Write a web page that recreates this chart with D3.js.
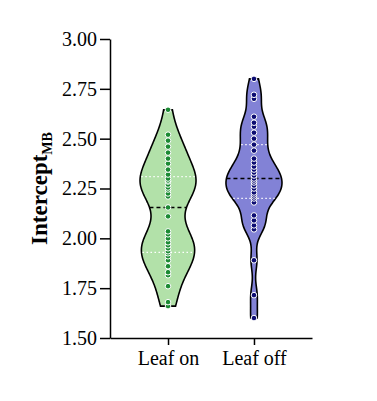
<!DOCTYPE html>
<html>
  <head>
    <meta charset="utf-8">
    <title>Intercept violin</title>
    <style>
      body { margin: 0; background: #fff; }
      text { font-family: "Liberation Serif", "Times New Roman", serif; }
    </style>
  </head>
  <body>
    <svg id="chart" width="377" height="401"></svg>
    <script src="https://cdn.jsdelivr.net/npm/d3@7"></script>
    <script>
      // categories and values
      categories = ['Leaf on', 'Leaf off']
      leafOn = [
        1.66, 1.68, 1.76, 1.815, 1.83, 1.86, 1.89, 1.91, 1.925, 1.935, 1.95, 1.965,
        1.98, 2.00, 2.02, 2.035, 2.11, 2.155, 2.21, 2.225, 2.245, 2.255, 2.27,
        2.285, 2.29, 2.30, 2.32, 2.345, 2.375, 2.40, 2.43, 2.46, 2.49, 2.52, 2.645
      ]
      leafOff = [
        1.60, 1.715, 1.89, 2.045, 2.065, 2.09, 2.115, 2.18, 2.20, 2.21, 2.22,
        2.23, 2.25, 2.265, 2.28, 2.29, 2.30, 2.315, 2.33, 2.345, 2.36, 2.38,
        2.40, 2.44, 2.47, 2.50, 2.53, 2.56, 2.58, 2.61, 2.70, 2.72, 2.80
      ]
      yTicks = [1.50, 1.75, 2.00, 2.25, 2.50, 2.75, 3.00]

      fills = ['#b2e1a9', '#8282d6']
      dots = ['#1b8a33', '#0c0c72']
      // kernel bandwidth per group (smoothing of the outline)
      bandwidths = [0.085, 0.055]

      const svg = d3.select('#chart')
      const axisLeftX = 110
      const halfWidth = 28

      const y = d3.scaleLinear()
        .domain([1.5, 3.0])
        .range([338, 39])

      const x = d3.scalePoint()
        .domain(categories)
        .range([axisLeftX, 312])
        .padding(0.675)

      function kde(values, h) {
        const lo = d3.min(values), hi = d3.max(values)
        const steps = 120
        return d3.range(steps + 1).map(i => {
          const v = lo + (hi - lo) * i / steps
          const dens = d3.sum(values, d => Math.exp(-0.5 * ((v - d) / h) ** 2)) / (values.length * h * Math.sqrt(2 * Math.PI))
          return { v, dens }
        })
      }

      function densAt(curve, v) {
        // linear lookup into the density curve
        const i = d3.bisector(d => d.v).left(curve, v)
        if (i <= 0) return curve[0].dens
        if (i >= curve.length) return curve[curve.length - 1].dens
        const a = curve[i - 1], b = curve[i]
        const t = (v - a.v) / (b.v - a.v)
        return a.dens + t * (b.dens - a.dens)
      }

      const groups = [leafOn, leafOff]

      groups.forEach((values, gi) => {
        const cx = x(categories[gi])
        const curve = kde(values, bandwidths[gi])
        const w = d3.scaleLinear()
          .domain([0, d3.max(curve, d => d.dens)])
          .range([0, halfWidth])

        const area = d3.area()
          .x0(d => cx - w(d.dens))
          .x1(d => cx + w(d.dens))
          .y(d => y(d.v))
          .curve(d3.curveCatmullRom)

        const g = svg.append('g').attr('class', 'violin')

        g.append('path')
          .datum(curve)
          .attr('d', area)
          .attr('fill', fills[gi])
          .attr('stroke', '#000')
          .attr('stroke-width', 1.6)

        const sorted = values.slice().sort(d3.ascending)
        const q1 = d3.quantile(sorted, 0.25)
        const med = d3.quantile(sorted, 0.5)
        const q3 = d3.quantile(sorted, 0.75)

        // quartiles: white dotted
        g.selectAll('line.q')
          .data([q1, q3])
          .join('line')
            .attr('class', 'q')
            .attr('x1', d => cx - w(densAt(curve, d)) + 1)
            .attr('x2', d => cx + w(densAt(curve, d)) - 1)
            .attr('y1', d => y(d))
            .attr('y2', d => y(d))
            .attr('stroke', '#fff')
            .attr('stroke-width', 1.3)
            .attr('stroke-dasharray', '1.5,2.5')

        // median: black dashed
        g.append('line')
          .attr('x1', cx - w(densAt(curve, med)))
          .attr('x2', cx + w(densAt(curve, med)))
          .attr('y1', y(med))
          .attr('y2', y(med))
          .attr('stroke', '#000')
          .attr('stroke-width', 1.6)
          .attr('stroke-dasharray', '4,3')

        g.selectAll('circle')
          .data(values)
          .join('circle')
            .attr('cx', cx)
            .attr('cy', d => y(d))
            .attr('r', 2.8)
            .attr('fill', dots[gi])
            .attr('stroke', '#fff')
            .attr('stroke-width', 1)
      })

      // axes
      const yAxis = d3.axisLeft(y)
        .tickValues(yTicks)
        .tickFormat(d3.format('.2f'))
        .tickSize(10)
        .tickSizeOuter(0)
        .tickPadding(3)

      const xAxis = d3.axisBottom(x)
        .tickSize(7)
        .tickSizeOuter(0)
        .tickPadding(6)

      const ya = svg.append('g')
        .attr('transform', `translate(${axisLeftX},0)`)
        .call(yAxis)

      const xa = svg.append('g')
        .attr('transform', `translate(0,${y(1.5)})`)
        .call(xAxis)

      ;[ya, xa].forEach(a => {
        a.selectAll('path, line').attr('stroke', '#000').attr('stroke-width', 1.5)
        a.selectAll('text')
          .attr('fill', '#000')
          .style('font-family', '"Liberation Serif", serif')
          .style('font-size', '20px')
      })

      // y-axis title with subscript
      const title = svg.append('text')
        .attr('transform', `translate(47,${(y(1.5) + y(3.0)) / 2}) rotate(-90)`)
        .attr('text-anchor', 'middle')
        .style('font-weight', 'bold')
        .style('font-size', '23px')
      title.append('tspan').text('Intercept')
      title.append('tspan')
        .attr('dy', 5)
        .style('font-size', '14px')
        .text('MB')
    </script>
  </body>
</html>
